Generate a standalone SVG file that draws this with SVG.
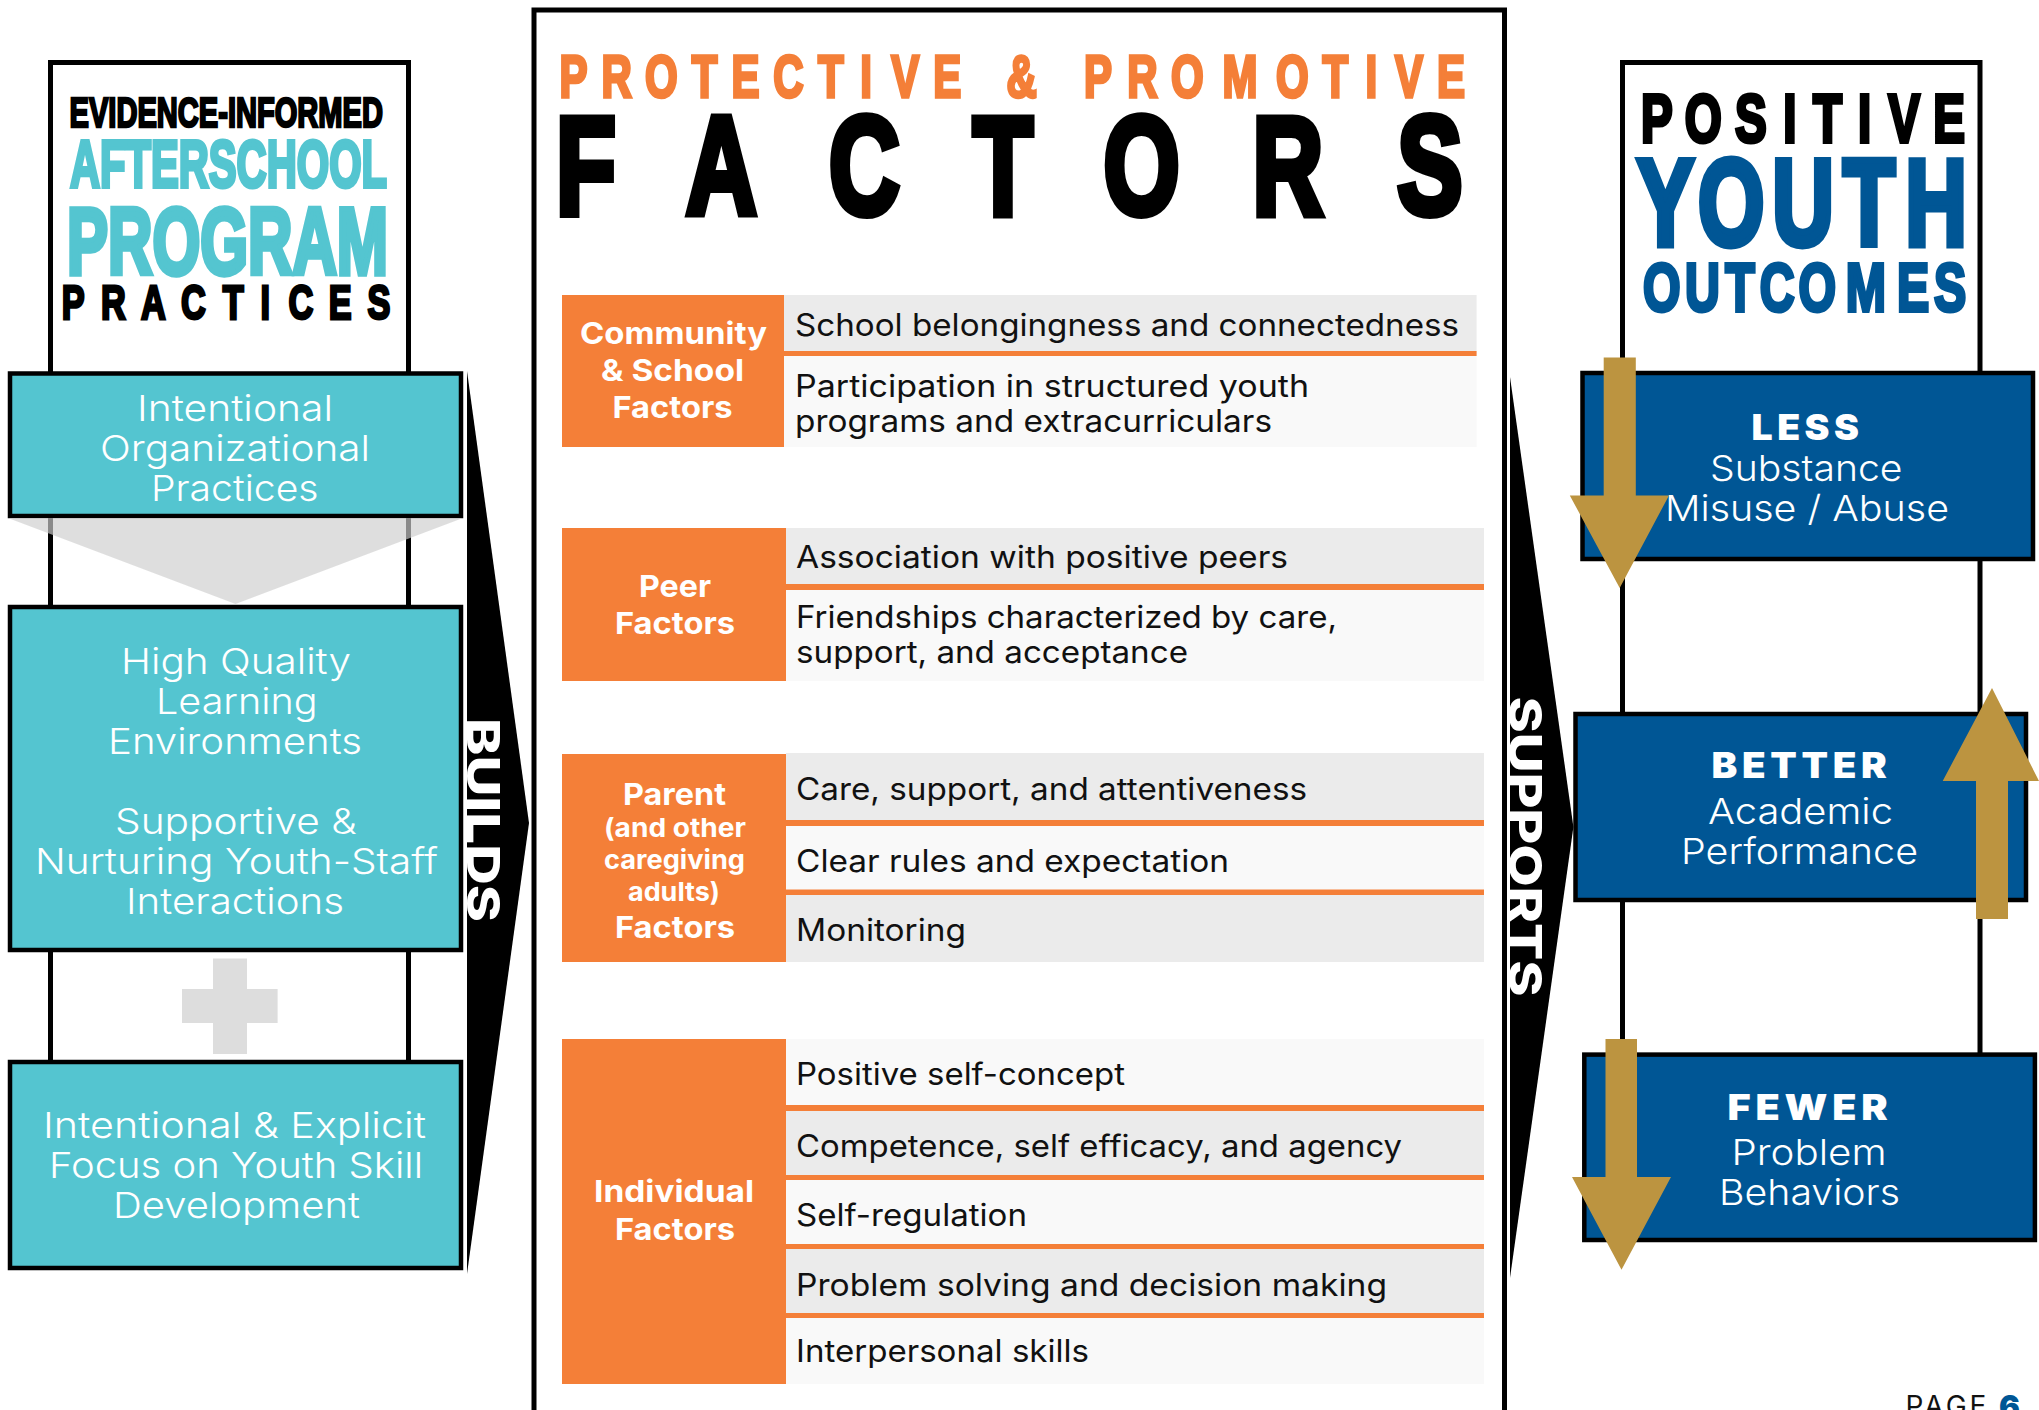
<svg xmlns="http://www.w3.org/2000/svg" width="2039" height="1410" viewBox="0 0 2039 1410">
<style>
.bg{fill:#fff}
.frame{fill:#fff;stroke:#000;stroke-width:5}
.teal{fill:#54c5d0;stroke:#000;stroke-width:4.5}
.blue{fill:#005695;stroke:#000;stroke-width:4.5}
.or{fill:#f47f38}
.g{fill:#ebebeb}
.w{fill:#f9f9f9}
.gold{fill:#bc9440}
.h{font-family:"Liberation Sans Narrow","Liberation Sans",sans-serif;font-weight:700;text-anchor:middle}
.t{font-family:"Liberation Sans Narrow","Liberation Sans",sans-serif;font-weight:700}
.k{fill:#000;stroke:#000}
.o{fill:#f47f38;stroke:#f47f38}
.c{fill:#54c5d0;stroke:#54c5d0}
.n{fill:#005695;stroke:#005695}
.lt{font-family:Inter,"Open Sans",sans-serif;font-weight:300;font-size:36px;fill:#fff}
.body{font-family:Inter,"Open Sans",sans-serif;font-weight:400;font-size:31px;fill:#111}
.lab{font-family:Inter,"Open Sans",sans-serif;font-weight:700;font-size:30.5px;fill:#fff}
.sm{font-size:26px}
.big{font-family:Inter,"Open Sans",sans-serif;font-weight:900;font-size:35px;fill:#fff;letter-spacing:.12em}
.side{font-family:Inter,"Open Sans",sans-serif;font-weight:800;font-size:45px;fill:#fff}
</style>
<rect class="bg" width="2039" height="1410"/>
<g id="frame-left">
<rect class="frame" x="50.5" y="62.5" width="358" height="1000"/>
<text class="t k" stroke-width="2.5" font-size="42" x="69.5" y="126.75" textLength="313.5" lengthAdjust="spacingAndGlyphs">EVIDENCE-INFORMED</text>
<text class="t c" stroke-width="4" font-size="67" x="70" y="187" textLength="317" lengthAdjust="spacingAndGlyphs">AFTERSCHOOL</text>
<text class="t c" stroke-width="5.5" font-size="95" x="67" y="274.25" textLength="321" lengthAdjust="spacingAndGlyphs">PROGRAM</text>
<text class="h k" stroke-width="3" font-size="49" transform="translate(0,319) scale(.7,1)" x="104.7 161.9 219.1 276.3 333.3 379 429.9 486.1 541.4" y="0">PRACTICES</text>
</g>
<g id="frame-center">
<rect class="frame" x="534" y="10" width="970.5" height="1430"/>
<text class="h o" stroke-width="3.5" font-size="60" transform="translate(0,97.25) scale(.7,1)" x="819.4 880.9 944.7 1006.6 1064.9 1126.4 1187 1237.1 1293.1 1353.3 1407 1459.4 1514 1568.7 1632 1696.3 1771.4 1846.1 1907.7 1959.1 2012.9 2073" y="0">PROTECTIVE &amp; PROMOTIVE</text>
<text class="h k" stroke-width="8" font-size="140" transform="translate(0,214) scale(.7,1)" x="837.1 1030.7 1235 1432.9 1630.7 1840 2042.9" y="0">FACTORS</text>
</g>
<g id="frame-right">
<rect class="frame" x="1622.5" y="62.5" width="357.5" height="1000"/>
<text class="h k" stroke-width="4" font-size="68" transform="translate(0,142) scale(.7,1)" x="2367.1 2433.4 2501.4 2556.9 2610.9 2663.9 2720.3 2784.6" y="0">POSITIVE</text>
<text class="h n" stroke-width="7" font-size="122" transform="translate(0,245) scale(.7,1)" x="2379.1 2473.3 2575.7 2670 2765.7" y="0">YOUTH</text>
<text class="h n" stroke-width="4" font-size="69" transform="translate(0,310.5) scale(.7,1)" x="2374 2431.9 2485.6 2539 2596.1 2665.6 2733.1 2786" y="0">OUTCOMES</text>
</g>
<g id="practice-organizational">
<rect class="teal" x="10" y="373.5" width="451" height="142.5"/>
<text class="lt" x="137" y="421" textLength="196" lengthAdjust="spacingAndGlyphs">Intentional</text>
<text class="lt" x="100" y="461" textLength="270" lengthAdjust="spacingAndGlyphs">Organizational</text>
<text class="lt" x="151" y="501" textLength="167.5" lengthAdjust="spacingAndGlyphs">Practices</text>
</g>
<polygon id="funnel" points="8,518 463,518 235.5,604" fill="#cecece" opacity=".67"/>
<g id="practice-environments">
<rect class="teal" x="10" y="607" width="451" height="343"/>
<text class="lt" x="121" y="673.7" textLength="230" lengthAdjust="spacingAndGlyphs">High Quality</text>
<text class="lt" x="156" y="713.8" textLength="161.6" lengthAdjust="spacingAndGlyphs">Learning</text>
<text class="lt" x="108" y="754" textLength="254" lengthAdjust="spacingAndGlyphs">Environments</text>
<text class="lt" x="115" y="833.5" textLength="241.6" lengthAdjust="spacingAndGlyphs">Supportive &amp;</text>
<text class="lt" x="35" y="873.7" textLength="403" lengthAdjust="spacingAndGlyphs">Nurturing Youth-Staff</text>
<text class="lt" x="126" y="913.8" textLength="218" lengthAdjust="spacingAndGlyphs">Interactions</text>
</g>
<path id="plus" d="M213 958.5H247V989H277.6V1023H247V1054H213V1023H182V989H213Z" fill="#ddd"/>
<g id="practice-skills">
<rect class="teal" x="10" y="1062" width="451" height="206"/>
<text class="lt" x="43" y="1138" textLength="383" lengthAdjust="spacingAndGlyphs">Intentional &amp; Explicit</text>
<text class="lt" x="49" y="1178" textLength="374" lengthAdjust="spacingAndGlyphs">Focus on Youth Skill</text>
<text class="lt" x="113" y="1218" textLength="247" lengthAdjust="spacingAndGlyphs">Development</text>
</g>
<g id="factors-community">
<rect class="g" x="784" y="295" width="692.6" height="56"/>
<rect class="w" x="784" y="356" width="692.6" height="91"/>
<rect class="or" x="784" y="351" width="692.6" height="5"/>
<rect class="or" x="562" y="295" width="222" height="152"/>
<text class="lab" x="580" y="344" textLength="187" lengthAdjust="spacingAndGlyphs">Community</text>
<text class="lab" x="601" y="381" textLength="143" lengthAdjust="spacingAndGlyphs">&amp; School</text>
<text class="lab" x="612.5" y="418" textLength="120" lengthAdjust="spacingAndGlyphs">Factors</text>
<text class="body" x="795" y="336" textLength="664" lengthAdjust="spacingAndGlyphs">School belongingness and connectedness</text>
<text class="body" x="795" y="397" textLength="514" lengthAdjust="spacingAndGlyphs">Participation in structured youth</text>
<text class="body" x="795" y="432" textLength="477" lengthAdjust="spacingAndGlyphs">programs and extracurriculars</text>
</g>
<g id="factors-peer">
<rect class="g" x="786" y="528" width="698" height="56"/>
<rect class="w" x="786" y="590" width="698" height="91"/>
<rect class="or" x="786" y="584" width="698" height="6"/>
<rect class="or" x="562" y="528" width="224" height="153"/>
<text class="lab" x="639" y="597" textLength="72" lengthAdjust="spacingAndGlyphs">Peer</text>
<text class="lab" x="615" y="634" textLength="120" lengthAdjust="spacingAndGlyphs">Factors</text>
<text class="body" x="796" y="568" textLength="492" lengthAdjust="spacingAndGlyphs">Association with positive peers</text>
<text class="body" x="796" y="628" textLength="541" lengthAdjust="spacingAndGlyphs">Friendships characterized by care,</text>
<text class="body" x="796" y="663" textLength="392" lengthAdjust="spacingAndGlyphs">support, and acceptance</text>
</g>
<g id="factors-parent">
<rect class="g" x="786" y="753" width="698" height="67"/>
<rect class="w" x="786" y="826" width="698" height="63.5"/>
<rect class="g" x="786" y="895" width="698" height="67"/>
<rect class="or" x="786" y="820" width="698" height="6"/>
<rect class="or" x="786" y="889.5" width="698" height="5.5"/>
<rect class="or" x="562" y="754" width="224" height="208"/>
<text class="lab" x="623" y="805" textLength="103" lengthAdjust="spacingAndGlyphs">Parent</text>
<text class="lab sm" x="604" y="837" textLength="142" lengthAdjust="spacingAndGlyphs">(and other</text>
<text class="lab sm" x="604" y="869" textLength="141" lengthAdjust="spacingAndGlyphs">caregiving</text>
<text class="lab sm" x="628" y="901" textLength="92" lengthAdjust="spacingAndGlyphs">adults)</text>
<text class="lab" x="615" y="938" textLength="120" lengthAdjust="spacingAndGlyphs">Factors</text>
<text class="body" x="796" y="800" textLength="511" lengthAdjust="spacingAndGlyphs">Care, support, and attentiveness</text>
<text class="body" x="796" y="872" textLength="433" lengthAdjust="spacingAndGlyphs">Clear rules and expectation</text>
<text class="body" x="796" y="941" textLength="170" lengthAdjust="spacingAndGlyphs">Monitoring</text>
</g>
<g id="factors-individual">
<rect class="w" x="786" y="1039" width="698" height="66"/>
<rect class="g" x="786" y="1111" width="698" height="64"/>
<rect class="w" x="786" y="1180" width="698" height="64"/>
<rect class="g" x="786" y="1249" width="698" height="64"/>
<rect class="w" x="786" y="1318" width="698" height="66"/>
<rect class="or" x="786" y="1105" width="698" height="6"/>
<rect class="or" x="786" y="1175" width="698" height="5"/>
<rect class="or" x="786" y="1244" width="698" height="5"/>
<rect class="or" x="786" y="1313" width="698" height="5"/>
<rect class="or" x="562" y="1039" width="224" height="345"/>
<text class="lab" x="594" y="1202" textLength="160" lengthAdjust="spacingAndGlyphs">Individual</text>
<text class="lab" x="615" y="1240" textLength="120" lengthAdjust="spacingAndGlyphs">Factors</text>
<text class="body" x="796" y="1085" textLength="329" lengthAdjust="spacingAndGlyphs">Positive self-concept</text>
<text class="body" x="796" y="1157" textLength="606" lengthAdjust="spacingAndGlyphs">Competence, self efficacy, and agency</text>
<text class="body" x="796" y="1226" textLength="231" lengthAdjust="spacingAndGlyphs">Self-regulation</text>
<text class="body" x="796" y="1296" textLength="591" lengthAdjust="spacingAndGlyphs">Problem solving and decision making</text>
<text class="body" x="796" y="1362" textLength="293" lengthAdjust="spacingAndGlyphs">Interpersonal skills</text>
</g>
<g id="outcome-less">
<rect class="blue" x="1582.5" y="373" width="450.5" height="186"/>
<text class="big" x="1751.5" y="440" textLength="112" lengthAdjust="spacingAndGlyphs">LESS</text>
<text class="lt" x="1710" y="481" textLength="192.5" lengthAdjust="spacingAndGlyphs">Substance</text>
<text class="lt" x="1665" y="521.4" textLength="284" lengthAdjust="spacingAndGlyphs">Misuse / Abuse</text>
</g>
<g id="outcome-better">
<rect class="blue" x="1575.5" y="714" width="450.5" height="186"/>
<text class="big" x="1711.5" y="777.5" textLength="180" lengthAdjust="spacingAndGlyphs">BETTER</text>
<text class="lt" x="1708" y="824" textLength="185" lengthAdjust="spacingAndGlyphs">Academic</text>
<text class="lt" x="1681" y="863.5" textLength="237" lengthAdjust="spacingAndGlyphs">Performance</text>
</g>
<g id="outcome-fewer">
<rect class="blue" x="1584.3" y="1054.6" width="450.6" height="185.4"/>
<text class="big" x="1727.5" y="1120" textLength="165" lengthAdjust="spacingAndGlyphs">FEWER</text>
<text class="lt" x="1731.5" y="1165" textLength="155" lengthAdjust="spacingAndGlyphs">Problem</text>
<text class="lt" x="1719" y="1205" textLength="181" lengthAdjust="spacingAndGlyphs">Behaviors</text>
</g>
<g id="connectors">
<polygon points="467,371 529,823 467,1274" fill="#000"/>
<text class="side" transform="translate(467,718) rotate(90)" x="0" y="0" textLength="204" lengthAdjust="spacingAndGlyphs">BUILDS</text>
<polygon points="1510,377 1573.4,827 1510,1278" fill="#000"/>
<text class="side" transform="translate(1509,696.5) rotate(90)" x="0" y="0" font-size="42" textLength="300" lengthAdjust="spacingAndGlyphs">SUPPORTS</text>
<polygon class="gold" points="1603.7,357.6 1635.8,357.6 1635.8,495.4 1669,495.4 1619.7,588 1569.8,495.4 1603.7,495.4"/>
<polygon class="gold" points="1976,919 2008,919 2008,781 2039,781 1992,688 1942.7,781 1976,781"/>
<polygon class="gold" points="1605.5,1039 1637,1039 1637,1177 1671,1177 1621.5,1269.7 1572,1177 1605.5,1177"/>
</g>
<text id="page" font-family="Inter,'Open Sans',sans-serif" font-size="28" fill="#111" x="1905.5" y="1416" letter-spacing="3">PAGE <tspan x="1999" y="1418" font-size="31" font-weight="900" letter-spacing="0" fill="#005695">6</tspan></text>
</svg>
